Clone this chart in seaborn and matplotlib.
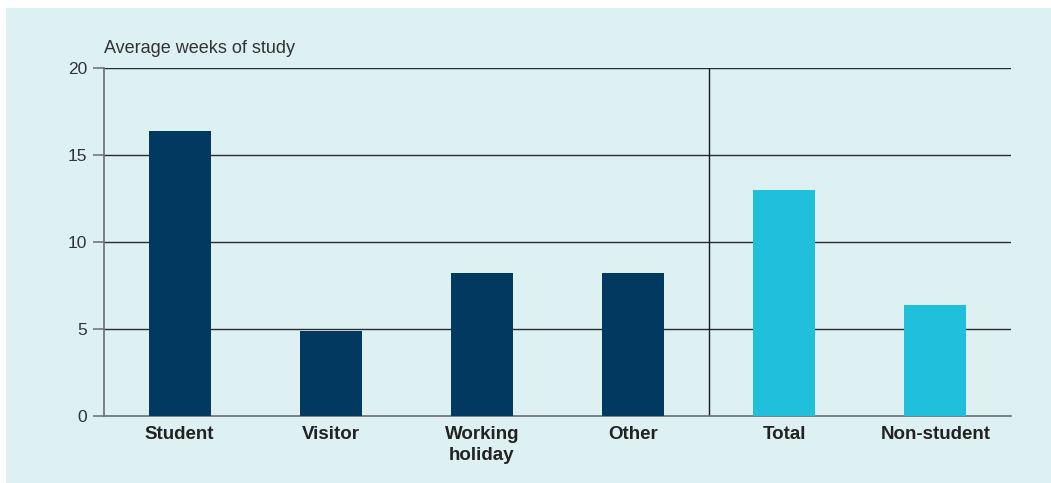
import matplotlib
matplotlib.use("Agg")
import matplotlib.pyplot as plt
from matplotlib.patches import Rectangle
import seaborn as sns
import pandas as pd

categories = ["Student", "Visitor", "Working\nholiday", "Other", "Total", "Non-student"]
weeks = [16.4, 4.9, 8.2, 8.2, 13.0, 6.4]
groups = ["visa", "visa", "visa", "visa", "summary", "summary"]
yticks = [0, 5, 10, 15, 20]

NAVY = "#023960"
CYAN = "#20BFDB"
PANEL = "#DDF0F2"

df = pd.DataFrame({"category": categories, "weeks": weeks, "group": groups})

sns.set_style("white")
plt.rcParams["font.family"] = ["Liberation Sans", "DejaVu Sans"]

W, H = 1051, 483
fig = plt.figure(figsize=(W / 100, H / 100), dpi=100)
fig.patch.set_facecolor("white")
fig.patches.append(Rectangle((6 / W, 0), 1 - 6 / W, 1 - 8 / H,
                             transform=fig.transFigure, facecolor=PANEL,
                             edgecolor="none", zorder=-10))

ax = fig.add_axes([104 / W, 1 - 416 / H, (1011 - 104) / W, (416 - 68) / H])
ax.set_facecolor("none")

sns.barplot(data=df, x="category", y="weeks", hue="group",
            palette={"visa": NAVY, "summary": CYAN}, dodge=False,
            width=0.41, legend=False, ax=ax, saturation=1, zorder=3,
            linewidth=0, edgecolor="none")

ax.set_ylim(0, 20)
ax.set_xlim(-0.5, len(categories) - 0.5)
ax.set_yticks(yticks)
for y in yticks[1:]:
    ax.axhline(y, color="#2b2b2b", lw=1.0, zorder=1)
ax.axvline(3.5, color="#1a1a1a", lw=1.0, zorder=1)

for side in ["top", "right"]:
    ax.spines[side].set_visible(False)
for side in ["left", "bottom"]:
    ax.spines[side].set_color("#6d6d6d")
    ax.spines[side].set_linewidth(1.2)

ax.tick_params(axis="y", length=8, width=1.1, color="#6d6d6d",
               labelsize=12.5, labelcolor="#333333", pad=4, left=True)
ax.tick_params(axis="x", length=0, labelsize=13.5, labelcolor="#222222", pad=7)
for lbl in ax.get_xticklabels():
    lbl.set_fontweight("bold")
    lbl.set_linespacing(1.35)

ax.set_xlabel("")
ax.set_ylabel("")
ax.text(0, 1.033, "Average weeks of study", transform=ax.transAxes,
        ha="left", va="bottom", fontsize=13, color="#333333")

fig.savefig("out.png", dpi=100, facecolor=fig.get_facecolor())
